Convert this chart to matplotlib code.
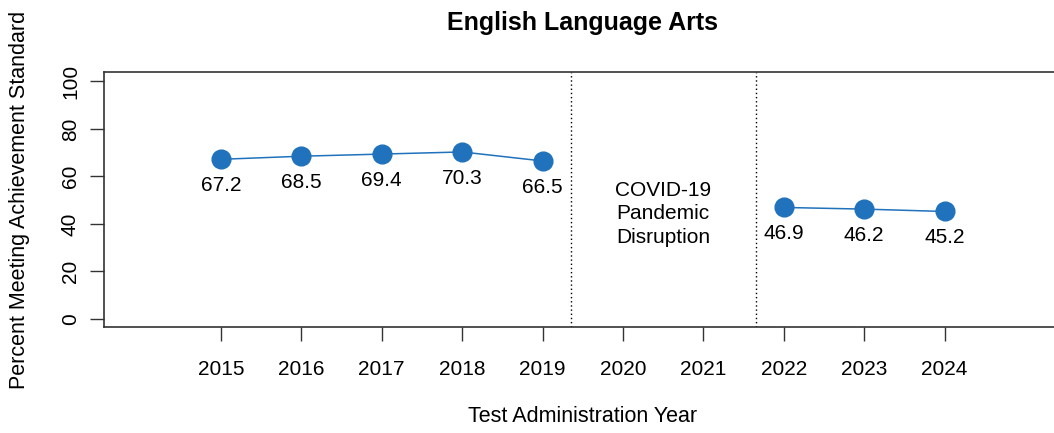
import matplotlib
matplotlib.use("Agg")
import matplotlib.pyplot as plt

plt.rcParams["font.family"] = ["Liberation Sans", "DejaVu Sans"]

# ELA proficiency by year, split around the COVID gap
years_pre = [2015, 2016, 2017, 2018, 2019]
pct_pre = [67.2, 68.5, 69.4, 70.3, 66.5]
years_post = [2022, 2023, 2024]
pct_post = [46.9, 46.2, 45.2]
tick_years = list(range(2015, 2025))
gap_bounds = [2019.36, 2021.66]

blue = "#1f72bb"

fig = plt.figure(figsize=(10.54, 4.33), dpi=100)
ax = fig.add_axes([0.0982, 0.2448, 0.9094, 0.5889])

for xs, ys in [(years_pre, pct_pre), (years_post, pct_post)]:
    ax.plot(xs, ys, color=blue, lw=1.1, marker="o", ms=13.5, mec=blue, mfc=blue)
    for x, y in zip(xs, ys):
        ax.annotate(f"{y:.1f}", (x, y), xytext=(0, -19), textcoords="offset points",
                    ha="center", va="center", fontsize=15)

for gx in gap_bounds:
    ax.axvline(gx, color="black", lw=1, ls=(0, (1, 2)))

ax.text(2020.5, 44.2, "COVID-19\nPandemic\nDisruption", ha="center", va="center",
        fontsize=15, linespacing=1.3)

ax.set_xlim(2013.54, 2025.46)
ax.set_ylim(-3.5, 104)
ax.set_xticks(tick_years)
ax.set_xticklabels([str(y) for y in tick_years], fontsize=15)
ax.set_yticks([0, 20, 40, 60, 80, 100])
ax.set_yticklabels(["0", "20", "40", "60", "80", "100"], fontsize=15,
                   rotation=90, va="center")
ax.tick_params(axis="x", length=10, width=1, pad=14, color="#333333")
ax.tick_params(axis="y", length=10, width=1, pad=7, color="#333333")
for sp in ax.spines.values():
    sp.set_color("#333333")
    sp.set_linewidth(1.2)

ax.set_title("English Language Arts", fontsize=18, fontweight="bold", pad=30)
ax.set_xlabel("Test Administration Year", fontsize=15.5, labelpad=19)
ax.set_ylabel("Percent Meeting Achievement Standard", fontsize=15.5, labelpad=22)

fig.savefig("out.png", dpi=100)
